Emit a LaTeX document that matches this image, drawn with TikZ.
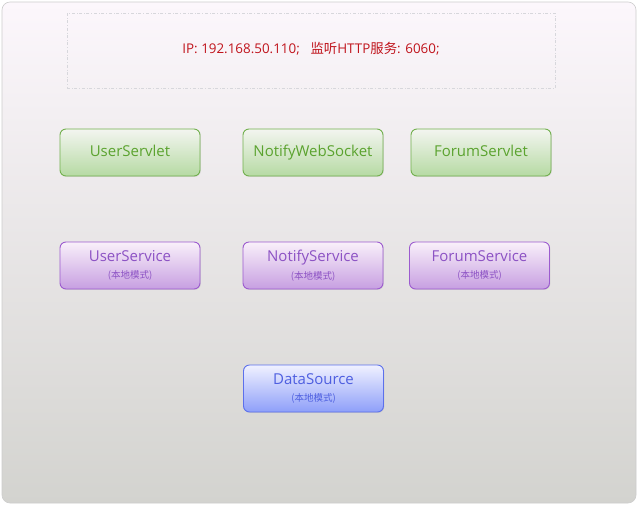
\documentclass[tikz,border=0pt]{standalone}
\usepackage{fontspec}
\setmainfont{Open Sans}
\newfontfamily\cjk{Noto Sans CJK SC}
\usetikzlibrary{shadows}
\definecolor{gbor}{HTML}{72B04E}
\definecolor{gtxt}{HTML}{5BA32F}
\definecolor{gtop}{HTML}{F3F5F0}
\definecolor{gbot}{HTML}{B6DAA3}
\definecolor{pbor}{HTML}{9C5BCF}
\definecolor{ptxt}{HTML}{8C52C4}
\definecolor{ptop}{HTML}{F9F0FA}
\definecolor{pbot}{HTML}{C79FE1}
\definecolor{bbor}{HTML}{5C70EC}
\definecolor{btxt}{HTML}{4E5FE0}
\definecolor{btop}{HTML}{F0F1FF}
\definecolor{bbot}{HTML}{8E9FF9}
\definecolor{redt}{HTML}{C0141C}
\newcommand\mysubt[1]{{\cjk\fontsize{9.5}{12}\selectfont #1}}
\newcommand\mymain[1]{{\fontsize{15}{18}\selectfont #1}}
\tikzset{
  x=1pt,y=-1pt,
  boxbase/.style={rounded corners=6pt, line width=0.9pt, minimum width=140pt, minimum height=47pt, inner sep=0pt, align=center, drop shadow={shadow xshift=0.8pt, shadow yshift=-0.8pt, opacity=0.18}},
  gbox/.style={boxbase, draw=gbor, top color=gtop, bottom color=gbot, text=gtxt, font=\fontsize{15}{18}\selectfont, text height=11pt, text depth=3.5pt},
  pbox/.style={boxbase, draw=pbor, top color=ptop, bottom color=pbot, text=ptxt},
  bbox/.style={boxbase, draw=bbor, top color=btop, bottom color=bbot, text=btxt}
}
\begin{document}
\begin{tikzpicture}
\useasboundingbox (0,0) rectangle (640,507);
\fill[white] (0,0) rectangle (640,507);
\shade[top color={rgb,255:red,252;green,247;blue,252}, bottom color={rgb,255:red,211;green,211;blue,207}, rounded corners=8pt, draw={rgb,255:red,205;green,205;blue,205}, line width=0.6pt] (2,2) rectangle (636,503);
\node[draw={rgb,255:red,215;green,215;blue,220}, dash dot, line width=0.6pt, minimum width=488pt, minimum height=75pt, inner sep=0pt] (hdr) at (311,50.5) {};
\node[text=redt, font=\fontsize{13.4}{16}\selectfont, anchor=center] (hdrtxt) at (311,49) {IP: 192.168.50.110;\hspace{0.8em}{\cjk 监听}HTTP{\cjk 服务}: 6060;};

\node[gbox] (us) at (130,152.5) {UserServlet};
\node[gbox] (nws) at (313,152.5) {NotifyWebSocket};
\node[gbox] (fs) at (481,152.5) {ForumServlet};

\node[pbox] (usv) at (130,265.5) {\mymain{UserService}\\[5.5pt]\mysubt{(本地模式)}};
\node[pbox] (nsv) at (313,265.5) {\mymain{NotifyService}\\[5.5pt]\mysubt{(本地模式)}};
\node[pbox] (fsv) at (479.5,265.5) {\mymain{ForumService}\\[5.5pt]\mysubt{(本地模式)}};

\node[bbox] (ds) at (313.5,388.5) {\mymain{DataSource}\\[5.5pt]\mysubt{(本地模式)}};
\end{tikzpicture}
\end{document}
